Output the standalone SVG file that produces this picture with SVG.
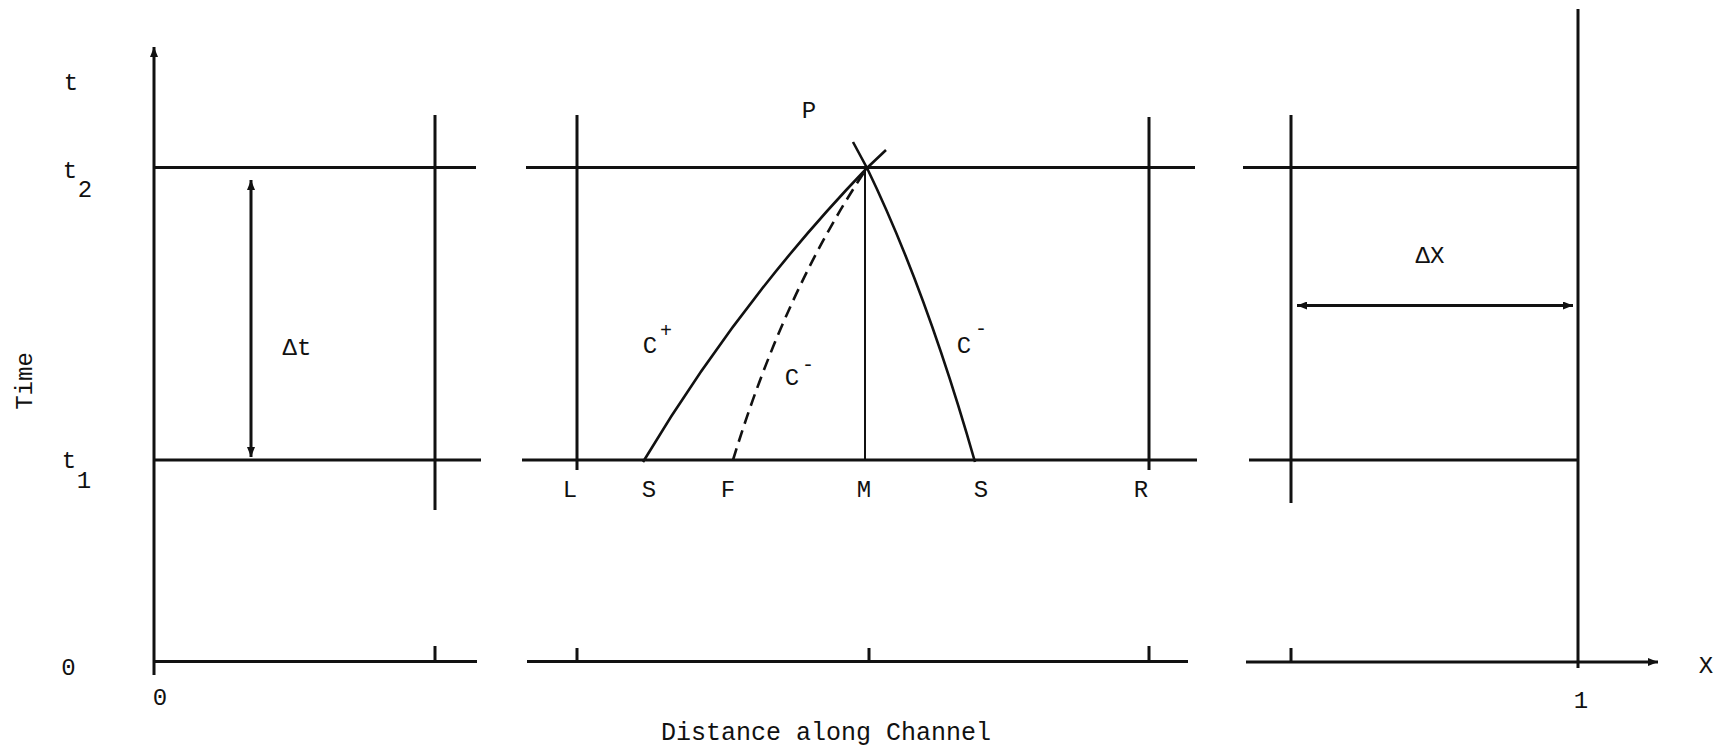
<svg xmlns="http://www.w3.org/2000/svg" width="1728" height="749" viewBox="0 0 1728 749">
<style>
.ln{stroke:#111;stroke-width:3;fill:none;stroke-linecap:butt}
.thin{stroke:#111;stroke-width:2;fill:none}
.cv{stroke:#111;stroke-width:2.6;fill:none}
.dash{stroke:#111;stroke-width:2.6;fill:none;stroke-dasharray:12 7}
text{font-family:"Liberation Mono","Courier New",monospace;font-size:24px;fill:#111;text-anchor:middle}
.sup{font-size:20px}
</style>
<defs>
<marker id="ah" viewBox="0 0 10 8" refX="10" refY="4" markerWidth="10" markerHeight="8" markerUnits="userSpaceOnUse" orient="auto-start-reverse">
<path d="M0,0 L10,4 L0,8 Z" fill="#111"/>
</marker>
</defs>
<rect width="1728" height="749" fill="#fff"/>

<g id="connectors">
<!-- left panel -->
<line class="ln" x1="154" y1="675" x2="154" y2="47" marker-end="url(#ah)"/>
<line class="ln" x1="154" y1="167.5" x2="476" y2="167.5"/>
<line class="ln" x1="154" y1="460" x2="481" y2="460"/>
<line class="ln" x1="154" y1="661.5" x2="477" y2="661.5"/>
<line class="ln" x1="435" y1="115" x2="435" y2="510"/>
<line class="ln" x1="435" y1="646" x2="435" y2="661"/>
<line class="ln" x1="251" y1="180" x2="251" y2="457" marker-start="url(#ah)" marker-end="url(#ah)"/>
<!-- middle panel -->
<line class="ln" x1="526" y1="167.5" x2="1195" y2="167.5"/>
<line class="ln" x1="522" y1="460" x2="1197" y2="460"/>
<line class="ln" x1="527" y1="661.5" x2="1188" y2="661.5"/>
<line class="ln" x1="577" y1="115" x2="577" y2="470"/>
<line class="ln" x1="1149" y1="117" x2="1149" y2="470"/>
<line class="thin" x1="865" y1="168" x2="865" y2="460"/>
<line class="ln" x1="577" y1="648" x2="577" y2="661"/>
<line class="ln" x1="869" y1="648" x2="869" y2="661"/>
<line class="ln" x1="1149" y1="646" x2="1149" y2="661"/>
<path class="cv" d="M643,462 Q740,300 867,168 L886,150"/>
<path class="dash" d="M733,460 Q785,290 867,168"/>
<path class="cv" d="M975,462 Q926,290 867,168 L853,142"/>
<!-- right panel -->
<line class="ln" x1="1243" y1="167.5" x2="1578" y2="167.5"/>
<line class="ln" x1="1249" y1="460" x2="1578" y2="460"/>
<line class="ln" x1="1246" y1="662" x2="1658" y2="662" marker-end="url(#ah)"/>
<line class="ln" x1="1291" y1="115" x2="1291" y2="503"/>
<line class="ln" x1="1291" y1="648" x2="1291" y2="662"/>
<line class="ln" x1="1578" y1="9" x2="1578" y2="668"/>
<line class="ln" x1="1297" y1="305.5" x2="1573" y2="305.5" marker-start="url(#ah)" marker-end="url(#ah)"/>
</g>

<g id="axis-labels">
<text x="71" y="90">t</text>
<text x="70" y="178">t</text>
<text x="85" y="197">2</text>
<text x="69" y="468">t</text>
<text x="84" y="488">1</text>
<text x="68.5" y="675">0</text>
<text x="160" y="705">0</text>
<text x="1581" y="708">1</text>
<text x="1706" y="673">X</text>
<text transform="translate(32,381) rotate(-90)">Time</text>
<text x="826" y="740" style="font-size:25px">Distance along Channel</text>
</g>

<g id="dt-label"><text x="297" y="355">Δt</text></g>
<g id="dx-label"><text x="1430" y="263">ΔX</text></g>
<g id="P"><text x="809" y="118">P</text></g>
<g id="L"><text x="570" y="497">L</text></g>
<g id="S1"><text x="649" y="497">S</text></g>
<g id="F"><text x="728" y="497">F</text></g>
<g id="M"><text x="864" y="497">M</text></g>
<g id="S2"><text x="981" y="497">S</text></g>
<g id="R"><text x="1141" y="497">R</text></g>
<g id="Cplus"><text x="650" y="353">C</text><text class="sup" x="666" y="337">+</text></g>
<g id="Cminus-dashed"><text x="792" y="385">C</text><text class="sup" x="808" y="371">-</text></g>
<g id="Cminus"><text x="964" y="353">C</text><text class="sup" x="981" y="335">-</text></g>
</svg>
